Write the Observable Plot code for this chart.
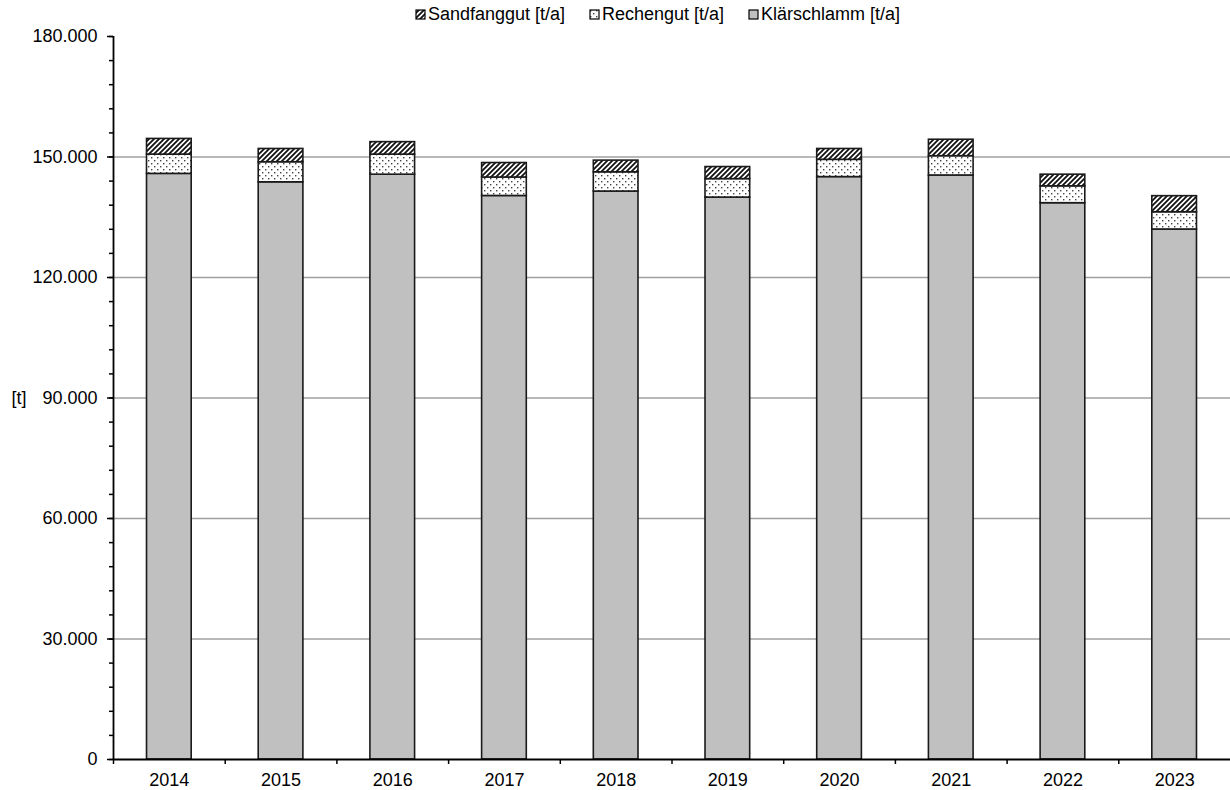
<!DOCTYPE html>
<html>
<head>
<meta charset="utf-8">
<script src="https://cdn.jsdelivr.net/npm/d3@7"></script>
<script src="https://cdn.jsdelivr.net/npm/@observablehq/plot@0.6"></script>
<style>
  html, body { margin: 0; padding: 0; background: #fff; }
  #wrap { position: relative; width: 1230px; height: 790px; font-family: "Liberation Sans", Arial, sans-serif; }
  #legend { position: relative; height: 18px; width: 1230px; font-size: 18px; line-height: 21px; color: #000; overflow: visible; z-index: 1; }
  #legend .item { position: absolute; top: 4px; display: flex; align-items: center; white-space: nowrap; }
  #legend svg { margin-right: 2px; }
  #chart svg { display: block; }
</style>
</head>
<body>
<div id="wrap">
  <div id="legend"></div>
  <div id="chart"></div>
</div>
<script>
// ---- Data ----
const years = ["2014", "2015", "2016", "2017", "2018", "2019", "2020", "2021", "2022", "2023"];
const klaerschlamm = [145800, 143700, 145600, 140300, 141400, 139900, 145000, 145400, 138500, 131950];
const rechengut = [4800, 5000, 5000, 4600, 4800, 4600, 4300, 4800, 4200, 4300];
const sandfanggut = [3900, 3300, 3100, 3600, 2900, 3000, 2700, 4100, 2900, 4000];
const seriesNames = ["Klärschlamm [t/a]", "Rechengut [t/a]", "Sandfanggut [t/a]"];
const legendOrder = ["Sandfanggut [t/a]", "Rechengut [t/a]", "Klärschlamm [t/a]"];
const yMajorTicks = [0, 30000, 60000, 90000, 120000, 150000, 180000];
const yGridTicks = [30000, 60000, 90000, 120000, 150000];
const yMinorTicks = d3.range(0, 180001, 6000);

const seriesValues = [klaerschlamm, rechengut, sandfanggut];
const data = [];
years.forEach((yr, i) => {
  seriesNames.forEach((s, j) => data.push({year: yr, series: s, value: seriesValues[j][i]}));
});

const fills = ["#c0c0c0", "url(#dotsPat)", "url(#hatchPat)"];
const de = d3.formatLocale({decimal: ",", thousands: ".", grouping: [3], currency: ["", " €"]});
const fmt = de.format(",.0f");

const W = 1230, H = 772, mL = 113, mR = 0, mT = 18, mB = 31;
const step = (W - mL - mR) / years.length;

const chart = Plot.plot({
  width: W,
  height: H,
  marginLeft: mL,
  marginRight: mR,
  marginTop: mT,
  marginBottom: mB,
  style: {fontFamily: "'Liberation Sans', Arial, sans-serif", fontSize: "18px", color: "#000", background: "#fff"},
  x: {domain: years, paddingInner: 0.6, paddingOuter: 0.3, round: false, label: null},
  y: {domain: [0, 180000], label: null},
  color: {domain: seriesNames, range: fills},
  marks: [
    Plot.gridY(yGridTicks, {stroke: "#a0a0a0", strokeOpacity: 1, strokeWidth: 1.5}),
    Plot.barY(data, {x: "year", y: "value", z: "series", fill: "series", stroke: "#1a1a1a", strokeWidth: 1.6}),
    Plot.ruleY([0], {stroke: "#000", strokeWidth: 1.8}),
    Plot.ruleX([years[0]], {dx: -step / 2, stroke: "#000", strokeWidth: 1.8}),
    Plot.ruleX(years, {dx: -step / 2, stroke: "#000", strokeWidth: 1.5, insetTop: H - mT - mB, insetBottom: -5}),
    Plot.axisY({ticks: yMajorTicks, tickSize: 6, tickPadding: 10, tickFormat: fmt, label: null, stroke: "#000", strokeWidth: 1.5, fill: "#000"}),
    Plot.axisY({ticks: yMinorTicks, tickSize: 4, tickFormat: () => "", label: null, stroke: "#000", strokeWidth: 1.5}),
    Plot.axisX({tickSize: 0, tickPadding: 14, label: null, fill: "#000"}),
    Plot.text(["[t]"], {frameAnchor: "left", dx: -102, textAnchor: "start", fill: "#000"})
  ]
});

d3.select(chart).insert("defs", ":first-child").html(`
  <pattern id="hatchPat" patternUnits="userSpaceOnUse" width="5" height="5">
    <rect width="5" height="5" fill="#fff"/>
    <path d="M-1,1 L1,-1 M0,5 L5,0 M4,6 L6,4" stroke="#111" stroke-width="1.8"/>
  </pattern>
  <pattern id="dotsPat" patternUnits="userSpaceOnUse" width="6" height="6">
    <rect width="6" height="6" fill="#fff"/>
    <rect x="1" y="1" width="1.4" height="1.4" fill="#444"/>
    <rect x="4" y="4" width="1.4" height="1.4" fill="#444"/>
  </pattern>
`);
document.getElementById("chart").appendChild(chart);

// ---- Legend ----
const legendX = [415, 589, 748];
const legend = d3.select("#legend");
legendOrder.forEach((name, i) => {
  const item = legend.append("div").attr("class", "item").style("left", legendX[i] + "px");
  const sw = item.append("svg").attr("width", 11).attr("height", 11);
  sw.append("rect").attr("x", 1).attr("y", 1).attr("width", 9).attr("height", 9)
    .attr("fill", fills[seriesNames.indexOf(name)]).attr("stroke", "#000").attr("stroke-width", 1.2);
  item.append("span").text(name);
});
</script>
</body>
</html>
